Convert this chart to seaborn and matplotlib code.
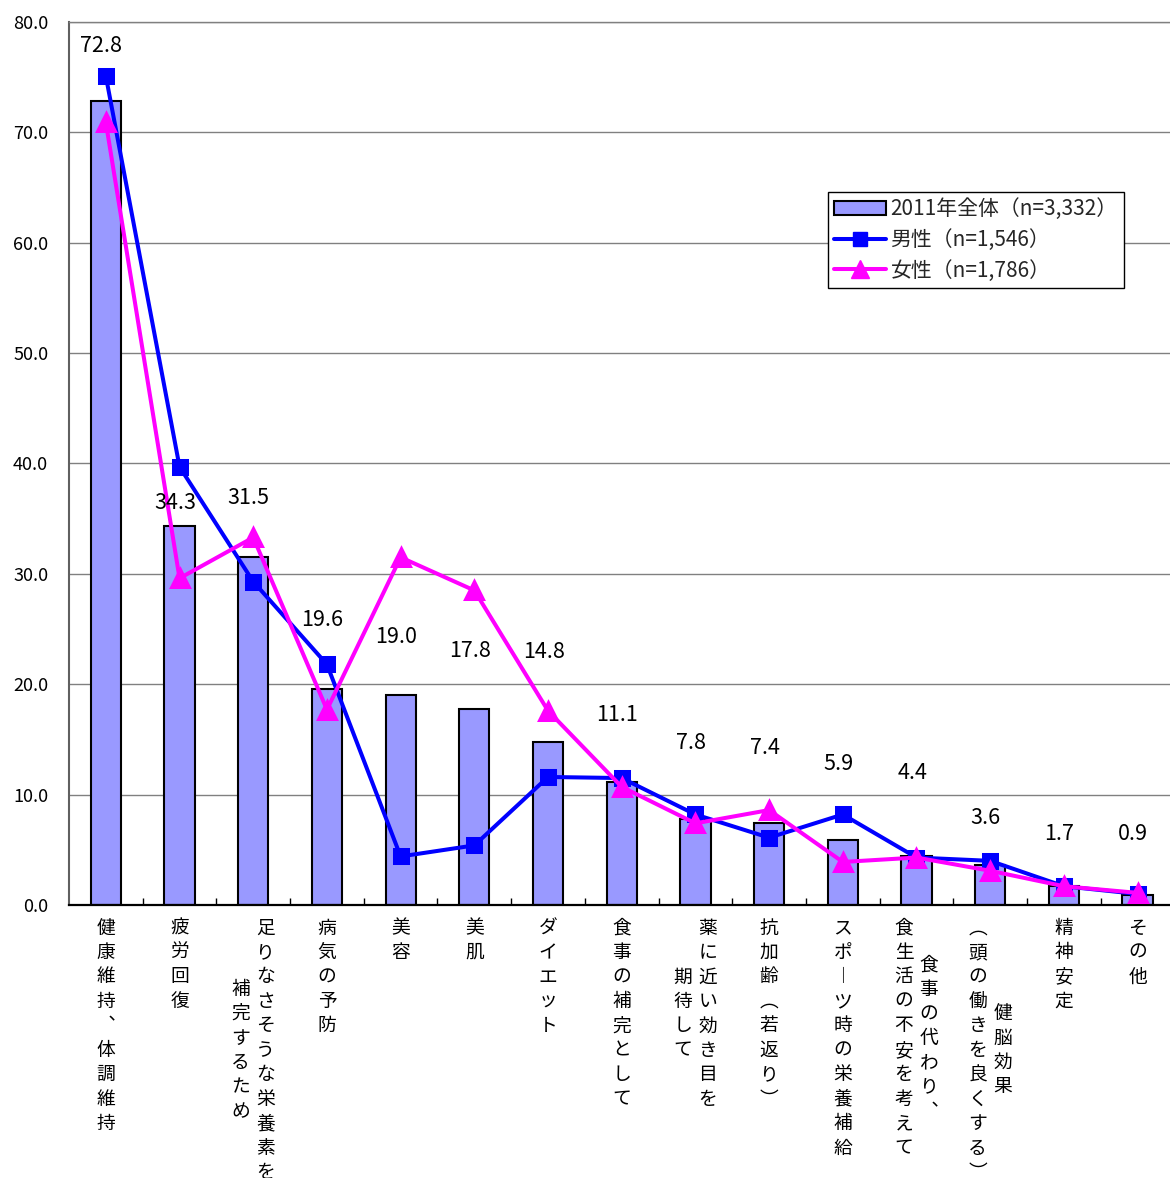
import numpy as np
import pandas as pd
import matplotlib
matplotlib.use("Agg")
import matplotlib.pyplot as plt
from matplotlib.patches import Patch
from matplotlib.lines import Line2D
from matplotlib.transforms import offset_copy
import seaborn as sns

# ---- data -------------------------------------------------------------
# each category label is given as its vertical text columns (right column first)
categories = [
    ["健康維持、体調維持"],
    ["疲労回復"],
    ["足りなさそうな栄養素を", "補完するため"],
    ["病気の予防"],
    ["美容"],
    ["美肌"],
    ["ダイエット"],
    ["食事の補完として"],
    ["薬に近い効き目を", "期待して"],
    ["抗加齢（若返り）"],
    ["スポーツ時の栄養補給"],
    ["食事の代わり、", "食生活の不安を考えて"],
    ["健脳効果", "（頭の働きを良くする）"],
    ["精神安定"],
    ["その他"],
]
total_2011 = [72.8, 34.3, 31.5, 19.6, 19.0, 17.8, 14.8, 11.1, 7.8, 7.4, 5.9, 4.4, 3.6, 1.7, 0.9]
male = [75.1, 39.7, 29.3, 21.8, 4.4, 5.4, 11.6, 11.5, 8.2, 6.1, 8.2, 4.3, 4.0, 1.7, 1.0]
female = [70.9, 29.6, 33.3, 17.7, 31.5, 28.5, 17.6, 10.7, 7.4, 8.6, 3.9, 4.3, 3.1, 1.7, 1.1]
y_ticks = [0, 10, 20, 30, 40, 50, 60, 70, 80]
legend_labels = ["2011年全体（n=3,332）", "男性（n=1,546）", "女性（n=1,786）"]

# ---- style -------------------------------------------------------------
sns.set_style("white")
plt.rcParams["font.family"] = ["Noto Sans CJK JP", "DejaVu Sans"]

BAR_COLOR = "#9999FF"
MALE_COLOR = "#0000FF"
FEMALE_COLOR = "#FF00FF"
GRID_COLOR = "#808080"

keys = ["c%02d" % i for i in range(len(categories))]
df = pd.DataFrame({"key": keys, "total": total_2011, "male": male, "female": female})

W, H = 1170, 1178
fig = plt.figure(figsize=(W / 100, H / 100), dpi=100)
ax = fig.add_axes([69 / W, (H - 905) / H, 1 - 69 / W, (905 - 22) / H])

sns.barplot(data=df, x="key", y="total", order=keys, color=BAR_COLOR, saturation=1,
            width=0.41, edgecolor="black", linewidth=1.5, ax=ax, zorder=2)
sns.pointplot(data=df, x="key", y="male", order=keys, color=MALE_COLOR, markers="s",
              markersize=10, linewidth=2.9, ax=ax, zorder=4)
sns.pointplot(data=df, x="key", y="female", order=keys, color=FEMALE_COLOR, markers="^",
              markersize=13, linewidth=2.9, ax=ax, zorder=5)

# axes, grid and ticks
ax.set_xlim(-0.5, 14.44)
ax.set_ylim(0, 80)
ax.set_yticks(y_ticks)
ax.set_yticklabels(["%.1f" % v for v in y_ticks], fontsize=13)
ax.yaxis.grid(True, color=GRID_COLOR, linewidth=1.0, zorder=0)
ax.xaxis.grid(False)
ax.set_axisbelow(True)
ax.set_xlabel("")
ax.set_ylabel("")
ax.set_xticks([])
ax.set_xticks(np.arange(0.5, len(categories) - 0.5, 1), minor=True)
ax.tick_params(axis="x", which="minor", direction="in", length=5, width=1, color="black",
               bottom=True, labelbottom=False)
ax.tick_params(axis="y", which="major", direction="out", length=6, width=1,
               color=GRID_COLOR, pad=9, labelcolor="black")
ax.spines["right"].set_visible(False)
ax.spines["top"].set_color(GRID_COLOR)
ax.spines["top"].set_linewidth(1.0)
ax.spines["left"].set_color("#606060")
ax.spines["left"].set_linewidth(1.5)
ax.spines["bottom"].set_color("black")
ax.spines["bottom"].set_linewidth(1.6)

# value labels for the overall bars
label_y = [77.8, 36.4, 36.9, 25.8, 24.3, 23.0, 22.9, 17.2, 14.7, 14.2, 12.8, 12.0, 7.9, 6.4, 6.4]
for i, (v, ly) in enumerate(zip(total_2011, label_y)):
    ax.text(i - 0.06, ly, "%.1f" % v, ha="center", va="center", fontsize=15.5,
            color="black", zorder=6)

# vertical (tategaki) category labels
vertical_forms = {"、": "\ufe11", "（": "\ufe35", "）": "\ufe36", "ー": "\ufe31"}
pitch = 17.6          # points between stacked characters
col_gap = 18.0        # points between text columns
top_off = 16.6        # points below the axis for the first character
base = ax.get_xaxis_transform()
for i, cols in enumerate(categories):
    n_cols = len(cols)
    longest = max(len(c) for c in cols)
    for j, col in enumerate(cols):
        dx = ((n_cols - 1) / 2 - j) * col_gap
        start = (longest - len(col)) / 2 * pitch
        for k, ch in enumerate(col):
            ch = vertical_forms.get(ch, ch)
            tr = offset_copy(base, fig=fig, x=dx, y=-(top_off + start + k * pitch), units="points")
            ax.text(i, 0, ch, transform=tr, ha="center", va="center", fontsize=13.5,
                    color="black", clip_on=False)

# legend
handles = [
    Patch(facecolor=BAR_COLOR, edgecolor="black", linewidth=1.5),
    Line2D([], [], color=MALE_COLOR, linewidth=2.9, marker="s", markersize=10),
    Line2D([], [], color=FEMALE_COLOR, linewidth=2.9, marker="^", markersize=13),
]
leg = fig.legend(handles, legend_labels, loc="upper left",
                 bbox_to_anchor=(828 / W, 1 - 192 / H), fontsize=15, frameon=True,
                 fancybox=False, edgecolor="black", framealpha=1, borderpad=0.3,
                 handlelength=2.5, handletextpad=0.2, labelspacing=0.42, borderaxespad=0)
leg.get_frame().set_linewidth(1.0)

fig.savefig("out.png", dpi=100, facecolor="white")
